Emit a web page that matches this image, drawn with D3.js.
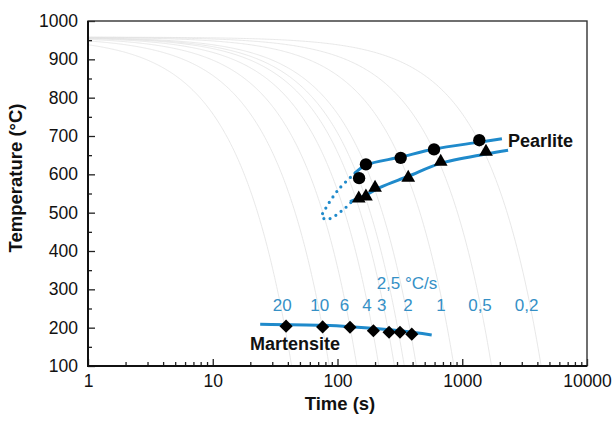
<!DOCTYPE html>
<html>
<head>
<meta charset="utf-8">
<script src="https://cdn.jsdelivr.net/npm/d3@7"></script>
<style>
  html, body { margin: 0; padding: 0; background: #fff; }
  svg { display: block; font-family: "Liberation Sans", Arial, Helvetica, sans-serif; }
  .tick text { font-size: 17.5px; fill: #111; }
  .tick line { stroke: #222; stroke-width: 1.3; }
</style>
</head>
<body>
<svg id="chart" width="614" height="421"></svg>
<script>
// Cooling rates (°C/s) of the thin grey cooling curves
const coolingRates = [20, 10, 6, 4, 3, 2.5, 2, 1, 0.5, 0.2];
const austenitizeTemp = 958;

// Labels of the rates, placed at the curve they belong to
const rateLabels = ['20', '10', '6', '4', '3', '2', '1', '0,5', '0,2'];
const rateLabelTimes = [36, 72, 114, 172, 226, 367, 675, 1388, 3285];
const rateLabelTemp = 244;

// Pearlite start (circles) and finish (triangles)
const pearliteStartTime = [149, 169, 321, 594, 1370];
const pearliteStartTemp = [590, 626, 643, 665, 689];
const pearliteEndTime = [148, 169, 200, 369, 672, 1550];
const pearliteEndTemp = [537, 542, 565, 591, 633, 659];

// Fitted blue lines
const pStartLineTime = [138, 169, 321, 594, 1380, 2080];
const pStartLineTemp = [603, 624, 645, 666, 684, 693];
const pEndLineTime = [126, 169, 220, 370, 660, 1550, 2330];
const pEndLineTemp = [529, 546, 566, 595, 628, 653, 663];
const noseTime = [138, 101, 79, 74.6, 84, 115, 130];
const noseTemp = [603, 559, 507, 489, 483, 512, 529];

// Martensite start (diamonds)
const martTime = [38.7, 76, 126, 194, 259, 317, 394];
const martTemp = [204, 202, 201, 192, 188, 188, 183];
const martLineTime = [24, 76, 126, 317, 569];
const martLineTemp = [209, 206, 202.5, 192, 181];

// Axis ticks
const xTicks = [1, 10, 100, 1000, 10000];
const yTicks = [100, 200, 300, 400, 500, 600, 700, 800, 900, 1000];

const blue = '#1f8acb';
const labelBlue = '#3590c6';

const svg = d3.select('#chart');
const x = d3.scaleLog().domain([1, 10000]).range([88, 587]);
const y = d3.scaleLinear().domain([100, 1000]).range([366, 21]);

svg.append('defs').append('clipPath').attr('id', 'plot')
    .append('rect')
    .attr('x', 88).attr('y', 21)
    .attr('width', 499).attr('height', 345);

const plot = svg.append('g').attr('clip-path', 'url(#plot)');

// Cooling curves, constant rate from the austenitizing temperature
const line = d3.line().x(d => x(d[0])).y(d => y(d[1]));
coolingRates.forEach(r => {
    const tEnd = (austenitizeTemp - 100) / r;
    const pts = d3.range(0, 301).map(i => {
        const t = Math.pow(tEnd, i / 300);
        return [t, austenitizeTemp - r * t];
    });
    plot.append('path')
        .attr('d', line(pts))
        .attr('fill', 'none')
        .attr('stroke', '#e2e2e2')
        .attr('stroke-width', 0.8);
});

// Blue transformation lines
const curvy = d3.line().x(d => x(d[0])).y(d => y(d[1])).curve(d3.curveCatmullRom.alpha(0.5));

plot.append('path')
    .attr('d', curvy(d3.zip(pStartLineTime, pStartLineTemp)))
    .attr('fill', 'none').attr('stroke', blue).attr('stroke-width', 3);
plot.append('path')
    .attr('d', curvy(d3.zip(pEndLineTime, pEndLineTemp)))
    .attr('fill', 'none').attr('stroke', blue).attr('stroke-width', 3);
plot.append('path')
    .attr('d', curvy(d3.zip(noseTime, noseTemp)))
    .attr('fill', 'none').attr('stroke', blue).attr('stroke-width', 3.2)
    .attr('stroke-linecap', 'round')
    .attr('stroke-dasharray', '0 6.5');
plot.append('path')
    .attr('d', curvy(d3.zip(martLineTime, martLineTemp)))
    .attr('fill', 'none').attr('stroke', blue).attr('stroke-width', 3);

// Markers
const sym = (type, size) => d3.symbol().type(type).size(size)();
plot.selectAll('.pstart').data(d3.zip(pearliteStartTime, pearliteStartTemp)).enter()
    .append('path').attr('class', 'pstart')
    .attr('d', sym(d3.symbolCircle, 120))
    .attr('transform', d => `translate(${x(d[0])},${y(d[1])})`)
    .attr('fill', '#000');
plot.selectAll('.pend').data(d3.zip(pearliteEndTime, pearliteEndTemp)).enter()
    .append('path').attr('class', 'pend')
    .attr('d', sym(d3.symbolTriangle, 82))
    .attr('transform', d => `translate(${x(d[0])},${y(d[1])})`)
    .attr('fill', '#000');
plot.selectAll('.mart').data(d3.zip(martTime, martTemp)).enter()
    .append('path').attr('class', 'mart')
    .attr('d', sym(d3.symbolDiamond2, 110))
    .attr('transform', d => `translate(${x(d[0])},${y(d[1])})`)
    .attr('fill', '#000');

// Rate labels
svg.selectAll('.rate').data(d3.zip(rateLabels, rateLabelTimes)).enter()
    .append('text').attr('class', 'rate')
    .attr('x', d => x(d[1]))
    .attr('y', y(rateLabelTemp))
    .attr('text-anchor', 'middle')
    .attr('font-size', 17)
    .attr('fill', labelBlue)
    .text(d => d[0]);
svg.append('text')
    .attr('x', x(206)).attr('y', y(302))
    .attr('font-size', 17).attr('fill', labelBlue)
    .text('2,5 °C/s');

// Phase names
svg.append('text')
    .attr('x', x(2330)).attr('y', y(671))
    .attr('font-size', 18).attr('font-weight', 'bold').attr('fill', '#111')
    .text('Pearlite');
svg.append('text')
    .attr('x', x(19.9)).attr('y', y(142))
    .attr('font-size', 18).attr('font-weight', 'bold').attr('fill', '#111')
    .text('Martensite');

// Axes with inward ticks
const minorX = [];
[1, 10, 100, 1000].forEach(d => { for (let k = 2; k <= 9; k++) minorX.push(d * k); });
const minorY = d3.range(150, 1000, 100);

svg.append('g').attr('transform', 'translate(0,366)')
    .call(d3.axisBottom(x).tickValues(minorX).tickFormat('').tickSize(-4))
    .call(g => g.select('.domain').remove());
svg.append('g').attr('transform', 'translate(0,366)')
    .call(d3.axisBottom(x).tickValues(xTicks).tickFormat(d3.format('d')).tickSize(-7).tickPadding(9))
    .call(g => g.select('.domain').remove());
svg.append('g').attr('transform', 'translate(88,0)')
    .call(d3.axisLeft(y).tickValues(minorY).tickFormat('').tickSize(-4))
    .call(g => g.select('.domain').remove());
svg.append('g').attr('transform', 'translate(88,0)')
    .call(d3.axisLeft(y).tickValues(yTicks).tickFormat(d3.format('d')).tickSize(-7).tickPadding(10))
    .call(g => g.select('.domain').remove());

svg.selectAll('.tick text').attr('font-family', null);

// Frame
svg.append('rect')
    .attr('x', 88).attr('y', 21).attr('width', 499).attr('height', 345)
    .attr('fill', 'none').attr('stroke', '#333').attr('stroke-width', 1.4);
svg.append('path')
    .attr('d', `M88,21V366H587`)
    .attr('fill', 'none').attr('stroke', '#111').attr('stroke-width', 2);

// Axis titles
svg.append('text')
    .attr('x', 340).attr('y', 410)
    .attr('text-anchor', 'middle')
    .attr('font-size', 18.5).attr('font-weight', 'bold').attr('fill', '#111')
    .text('Time (s)');
svg.append('text')
    .attr('transform', 'translate(22,178) rotate(-90)')
    .attr('text-anchor', 'middle')
    .attr('font-size', 18.5).attr('font-weight', 'bold').attr('fill', '#111')
    .text('Temperature (°C)');
</script>
</body>
</html>
